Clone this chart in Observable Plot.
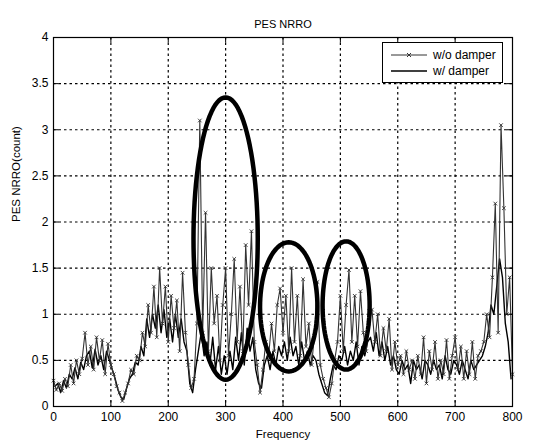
<!DOCTYPE html>
<html>
<head>
<meta charset="utf-8">
<script src="https://cdn.jsdelivr.net/npm/d3@7"></script>
<script src="https://cdn.jsdelivr.net/npm/@observablehq/plot@0.6"></script>
<style>
  body { margin: 0; background: #fff; }
  #wrap { position: relative; width: 535px; height: 445px; }
  #legend { position: absolute; left: 382px; top: 42px; width: 119px; height: 39px;
            border: 1px solid #000; background: #fff; font: 12px "Liberation Sans", Arial, sans-serif; color: #000; }
  #legend .row { position: absolute; left: 0; height: 16px; display: flex; align-items: center; }
  #legend svg { margin-left: 8px; margin-right: 6px; }
</style>
</head>
<body>
<div id="wrap"></div>
<script>
// ---- data ----
const title = "PES NRRO";
const xLabel = "Frequency";
const yLabel = "PES NRRO(count)";
const seriesNames = ["w/o damper", "w/ damper"];
const xTicks = [0, 100, 200, 300, 400, 500, 600, 700, 800];
const yTicks = [0, 0.5, 1, 1.5, 2, 2.5, 3, 3.5, 4];

// w/o damper: frequencies 0,5,...,800
const freqA = d3.range(0, 801, 5);
const valuesA = [
  0.28,0.18,0.25,0.17,0.30,0.22,0.45,0.25,0.50,0.35,
  0.52,0.80,0.45,0.65,0.40,0.75,0.50,0.72,0.35,0.68,
  0.45,0.35,0.22,0.15,0.06,0.15,0.25,0.40,0.35,0.55,
  0.50,0.80,0.65,1.10,0.80,1.30,0.75,1.50,0.90,1.30,
  0.70,1.20,0.85,1.15,0.60,1.45,0.80,0.45,0.20,0.30,
  0.90,3.10,0.80,2.10,0.60,1.50,0.90,1.20,0.50,1.10,
  1.50,0.55,1.00,1.60,0.70,1.30,0.60,1.75,1.10,1.90,
  0.70,0.45,0.15,0.40,0.70,0.55,0.90,0.60,1.10,1.28,
  0.80,1.20,0.60,1.50,0.70,1.20,0.55,1.38,0.65,0.90,
  0.45,0.80,1.35,0.45,0.30,0.20,0.10,0.25,0.50,0.70,
  1.20,0.60,1.10,1.48,0.70,1.20,0.65,1.25,0.80,0.60,
  0.90,1.05,0.70,1.00,0.55,0.85,0.60,0.95,0.40,0.70,
  0.45,0.55,0.35,0.60,0.40,0.50,0.30,0.55,0.35,0.75,
  0.25,0.60,0.40,0.70,0.30,0.50,0.35,0.72,0.30,0.55,
  0.75,0.40,0.65,0.30,0.60,0.35,0.70,0.30,0.55,0.60,
  0.70,1.00,0.75,1.40,2.20,0.80,3.05,2.15,1.00,1.40,
  0.35
];

// w/ damper: frequencies 2.5,7.5,...,797.5
const freqB = d3.range(2.5, 800, 5);
const valuesB = [
  0.22,0.25,0.15,0.28,0.20,0.35,0.30,0.42,0.30,0.48,
  0.40,0.55,0.60,0.42,0.62,0.45,0.55,0.40,0.60,0.50,
  0.40,0.30,0.18,0.10,0.08,0.20,0.30,0.35,0.48,0.45,
  0.65,0.55,0.95,0.75,1.00,0.85,1.10,0.80,1.05,0.75,
  0.95,0.70,1.00,0.75,0.95,0.70,0.60,0.25,0.15,0.40,
  0.60,0.80,0.55,0.70,0.45,0.75,0.40,0.65,0.35,0.55,
  0.35,0.60,0.40,0.75,0.50,0.80,0.45,0.85,0.60,0.75,
  0.40,0.25,0.20,0.45,0.55,0.40,0.60,0.45,0.65,0.55,
  0.70,0.50,0.75,0.55,0.65,0.45,0.70,0.50,0.60,0.45,
  0.55,0.50,0.35,0.25,0.15,0.12,0.30,0.45,0.40,0.55,
  0.50,0.65,0.45,0.60,0.50,0.70,0.45,0.65,0.55,0.70,
  0.75,0.60,0.80,0.55,0.70,0.50,0.65,0.45,0.55,0.40,
  0.35,0.50,0.40,0.45,0.25,0.50,0.40,0.45,0.30,0.50,
  0.45,0.35,0.50,0.40,0.45,0.30,0.55,0.40,0.35,0.50,
  0.45,0.35,0.50,0.40,0.30,0.50,0.40,0.45,0.50,0.55,
  0.65,0.80,1.10,1.00,1.30,1.60,1.40,0.90,0.70,0.30
];

// annotation ellipses (centre and radii in data units)
const ellipseCx = [300, 410, 510];
const ellipseCy = [1.82, 1.08, 1.095];
const ellipseRx = [56, 50, 41];
const ellipseRy = [1.53, 0.70, 0.695];

// ---- build tables ----
const dataA = freqA.map((f, i) => ({f, v: valuesA[i]}));
const dataB = freqB.map((f, i) => ({f, v: valuesB[i]}));
const ellipsePts = [];
ellipseCx.forEach((cx, k) => {
  for (let t = 0; t <= 96; t++) {
    const a = t / 96 * 2 * Math.PI;
    ellipsePts.push({id: k, x: cx + ellipseRx[k] * Math.cos(a), y: ellipseCy[k] + ellipseRy[k] * Math.sin(a)});
  }
});

const chart = Plot.plot({
  width: 535, height: 445,
  marginLeft: 53, marginRight: 23, marginTop: 37, marginBottom: 39,
  style: {fontFamily: "'Liberation Sans', Arial, sans-serif", fontSize: "12px", background: "#fff", color: "#000"},
  x: {domain: [0, 800], ticks: xTicks, label: null},
  y: {domain: [0, 4], ticks: yTicks, label: null},
  marks: [
    Plot.ruleX(xTicks.slice(1, -1), {stroke: "#000", strokeDasharray: "2.5,3", strokeWidth: 1.2}),
    Plot.ruleY(yTicks.slice(1, -1), {stroke: "#000", strokeDasharray: "2.5,3", strokeWidth: 1.2}),
    Plot.line(dataB, {x: "f", y: "v", stroke: "#000", strokeWidth: 1.4}),
    Plot.line(dataA, {x: "f", y: "v", stroke: "#333", strokeWidth: 1.1}),
    Plot.dot(dataA, {x: "f", y: "v", symbol: "times", r: 1.8, stroke: "#333", strokeWidth: 0.9}),
    Plot.line(ellipsePts, {x: "x", y: "y", z: "id", stroke: "#000", strokeWidth: 4.5}),
    Plot.ruleX(xTicks, {y1: 0, y2: 0.06, stroke: "#000"}),
    Plot.ruleX(xTicks, {y1: 3.94, y2: 4, stroke: "#000"}),
    Plot.ruleY(yTicks, {x1: 0, x2: 10, stroke: "#000"}),
    Plot.ruleY(yTicks, {x1: 790, x2: 800, stroke: "#000"}),
    Plot.frame({stroke: "#000", strokeWidth: 1.2}),
    Plot.axisX(xTicks, {tickSize: 0, tickPadding: 6, label: null, fontSize: 12}),
    Plot.axisY(yTicks, {tickSize: 0, tickPadding: 5, label: null, tickFormat: d => String(d), fontSize: 12}),
    Plot.text([title], {frameAnchor: "top", dy: -17, fontSize: 11}),
    Plot.text([xLabel], {frameAnchor: "bottom", dy: 31, fontSize: 11.5}),
    Plot.text([yLabel], {frameAnchor: "left", dx: -37, rotate: -90, fontSize: 11.5})
  ]
});

const wrap = document.getElementById("wrap");
wrap.appendChild(chart);

// legend
const legend = document.createElement("div");
legend.id = "legend";
seriesNames.forEach((name, i) => {
  const row = document.createElement("div");
  row.className = "row";
  row.style.top = (4 + i * 16) + "px";
  const sw = i === 0
    ? `<svg width="36" height="10"><line x1="0" y1="5" x2="36" y2="5" stroke="#333" stroke-width="1"/><path d="M16,3L20,7M20,3L16,7" stroke="#333" stroke-width="1"/></svg>`
    : `<svg width="36" height="10"><line x1="0" y1="5" x2="36" y2="5" stroke="#000" stroke-width="1.4"/></svg>`;
  row.innerHTML = sw + `<span>${name}</span>`;
  legend.appendChild(row);
});
wrap.appendChild(legend);
</script>
</body>
</html>
